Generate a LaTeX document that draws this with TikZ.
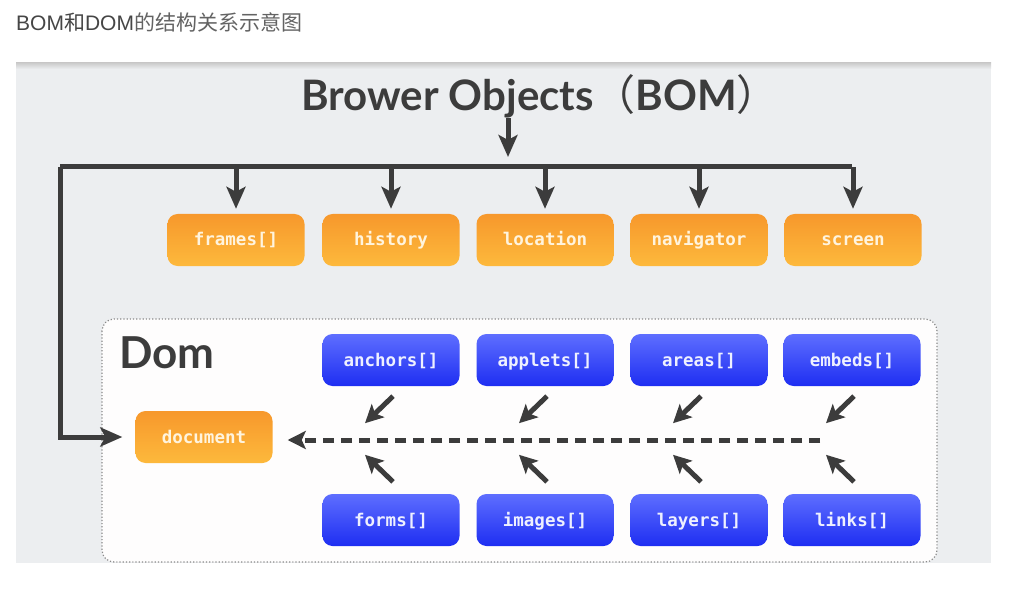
\documentclass[tikz,border=0pt]{standalone}
\usepackage{fontspec}
\usetikzlibrary{arrows.meta,calc}
\newfontfamily\cjkf{Noto Sans CJK SC}
\newfontfamily\latf{Liberation Sans}
\newfontfamily\headf{Lato}
\newfontfamily\monof{DejaVu Sans Mono}
\definecolor{panel}{HTML}{ECEEF0}
\definecolor{ink}{HTML}{3C3C3C}
\definecolor{otop}{HTML}{F7982C}
\definecolor{obot}{HTML}{FDB93C}
\definecolor{btop}{HTML}{5E6EFF}
\definecolor{bbot}{HTML}{1E2EF2}
\definecolor{otxt}{HTML}{FFF4DE}
\definecolor{btxt}{HTML}{EEF0FF}
\definecolor{domfill}{HTML}{FEFDFD}
\definecolor{domline}{HTML}{8A8A8A}
\begin{document}
\begin{tikzpicture}[x=1pt,y=-1pt,
  boxbase/.style={rounded corners=10pt,minimum width=137pt,minimum height=52pt,
    draw=none,text height=13pt,text depth=1pt,
    font=\monof\bfseries\fontsize{17.5}{20}\selectfont},
  obox/.style={boxbase,top color=otop,bottom color=obot,text=otxt},
  bbox/.style={boxbase,top color=btop,bottom color=bbot,text=btxt},
  bus/.style={draw=ink,line width=5pt},
  busarrow/.style={draw=ink,line width=5pt,-{Stealth[width=19pt,length=22pt,inset=5pt]}},
  diag/.style={draw=ink,line width=5pt,-{Stealth[width=18pt,length=18pt,inset=4pt]}},
  dashline/.style={draw=ink,line width=5pt,dash pattern=on 11pt off 7pt,
    -{Stealth[width=18pt,length=18pt,inset=4pt]}}
]
\useasboundingbox (0,0) rectangle (1012,596);
\fill[white] (0,0) rectangle (1012,596);
% page title
\node[anchor=base west,inner sep=0pt,text=ink!95,font=\fontsize{21}{24}\selectfont] (pagetitle) at (16,31)
  {\latf BOM\cjkf 和\latf DOM\cjkf\color{ink!80}的结构关系示意图};
% panel
\fill[panel] (16,63) rectangle (991,563);
\shade[top color=black!20,bottom color=panel] (16,63) rectangle (991,69);
% main title
\node[anchor=base,inner sep=0pt,text=ink,font=\headf\bfseries\fontsize{42}{48}\selectfont] (bom) at (540,111)
  {Brower Objects{\cjkf\mdseries（}BOM{\cjkf\mdseries）}};
% dom box
\draw[domline,fill=domfill,dotted,line width=1.2pt,rounded corners=12pt] (102,319) rectangle (937,562);
\node[anchor=base west,inner sep=0pt,text=ink,font=\headf\bfseries\fontsize{44}{48}\selectfont] (domlbl) at (119,368) {Dom};
% orange BOM boxes
\node[obox] (fr) at (236,240) {frames[]};
\node[obox] (hi) at (391,240) {history};
\node[obox] (lo) at (545,240) {location};
\node[obox] (na) at (699,240) {navigator};
\node[obox] (sc) at (853,240) {screen};
\node[obox] (doc) at (204,437) {document};
% blue DOM collections
\node[bbox] (an) at (391,360) {anchors[]};
\node[bbox] (ap) at (545,360) {applets[]};
\node[bbox] (ar) at (699,360) {areas[]};
\node[bbox] (em) at (852,360) {embeds[]};
\node[bbox] (fo) at (391,520) {forms[]};
\node[bbox] (im) at (545,520) {images[]};
\node[bbox] (la) at (699,520) {layers[]};
\node[bbox] (li) at (852,520) {links[]};
% bus
\coordinate (busL) at (60,167);
\coordinate (busR) at (852,167);
\coordinate (topA) at (508,118);
\draw[busarrow,shorten >=-2pt] (topA) -- ($(topA |- busL)+(0,-12)$);
\draw[bus,line cap=butt,line join=miter] (busR) -- (busL);
\foreach \b in {fr,hi,lo,na,sc}{
  \draw[busarrow,shorten >=5pt] (\b.north |- busL) -- (\b.north);
}
\draw[busarrow,line join=miter,shorten >=13pt] (busL) -- (busL |- doc.west) -- (doc.west);
% dashed line
\coordinate (dashE) at (820,440);
\draw[dashline,shorten >=15pt] (dashE) -- (dashE -| doc.east);
% diagonal arrows
\foreach \b in {an,ap,ar,em}{
  \draw[diag] ($(\b.south)+(2,10)$) -- ($(\b.south)+(-26,37)$);
}
\foreach \b in {fo,im,la,li}{
  \draw[diag] ($(\b.north)+(2,-12)$) -- ($(\b.north)+(-26,-39)$);
}
\end{tikzpicture}
\end{document}
